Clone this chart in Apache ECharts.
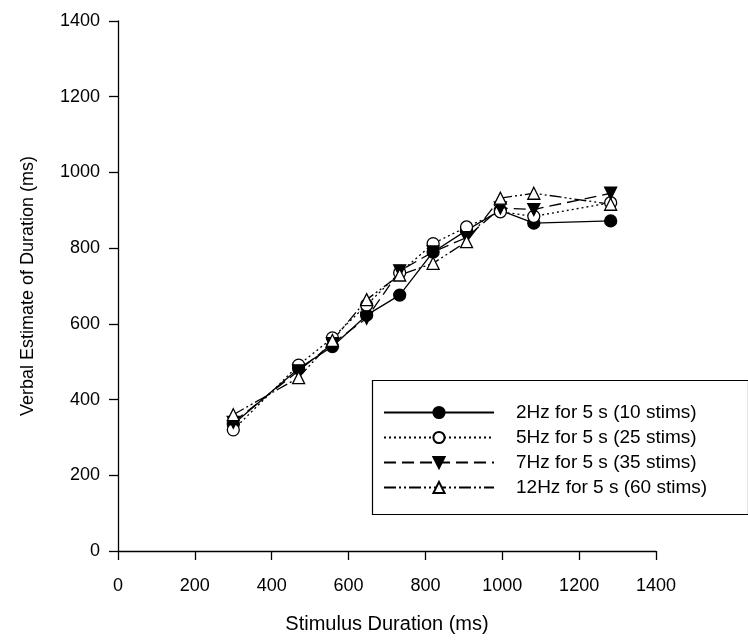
<!DOCTYPE html>
<html>
<head>
<meta charset="utf-8">
<script src="https://cdn.jsdelivr.net/npm/echarts@6/dist/echarts.min.js"></script>
<style>
  html, body { margin: 0; padding: 0; background: #fff; }
  #chart { width: 748px; height: 641px; }
</style>
</head>
<body>
<div id="chart"></div>
<script>
// stimulus durations (ms)
const durations = [300, 470, 558, 647, 733, 820, 907, 995, 1082, 1282];
// verbal estimates (ms) for each condition
const est2Hz  = [335, 482, 540, 623, 676, 790, 847, 900, 866, 872];
const est5Hz  = [320, 491, 563, 650, 735, 812, 856, 896, 884, 920];
const est7Hz  = [340, 476, 548, 615, 740, 790, 828, 906, 902, 945];
const est12Hz = [360, 458, 556, 664, 729, 760, 817, 932, 945, 916];
const seriesNames = ['2Hz for 5 s (10 stims)', '5Hz for 5 s (25 stims)', '7Hz for 5 s (35 stims)', '12Hz for 5 s (60 stims)'];

const pairs = arr => durations.map((d, i) => [d, arr[i]]);

const chart = echarts.init(document.getElementById('chart'));
const font = 'Liberation Sans, Arial, sans-serif';

const mk = (name, data, symbol, fill, lineType, rotate) => ({
  name: name,
  type: 'line',
  data: pairs(data),
  symbol: symbol,
  symbolSize: 12,
  symbolRotate: rotate || 0,
  showAllSymbol: true,
  lineStyle: { color: '#000', width: 1.3, type: lineType },
  itemStyle: { color: fill, borderColor: '#000', borderWidth: 1.3 },
  emphasis: { disabled: true },
  z: 3
});

const axisCommon = {
  type: 'value', min: 0, max: 1400, interval: 200,
  nameLocation: 'middle',
  axisLine: { show: true, onZero: false, lineStyle: { color: '#000', width: 1.3 } },
  axisTick: { show: true, inside: false, length: 9, lineStyle: { color: '#000', width: 1.3 } },
  splitLine: { show: false }
};

chart.setOption({
  animation: false,
  backgroundColor: '#fff',
  grid: { left: 118, top: 21, right: 92, bottom: 90 },
  xAxis: Object.assign({}, axisCommon, {
    name: 'Stimulus Duration (ms)', nameGap: 63,
    nameTextStyle: { fontFamily: font, fontSize: 20, color: '#000' },
    axisLabel: { fontFamily: font, fontSize: 18, color: '#000', margin: 26, formatter: v => String(v) }
  }),
  yAxis: Object.assign({}, axisCommon, {
    name: 'Verbal Estimate of Duration (ms)', nameGap: 81,
    nameTextStyle: { fontFamily: font, fontSize: 18, color: '#000' },
    axisLabel: { fontFamily: font, fontSize: 18, color: '#000', margin: 18, formatter: v => String(v) }
  }),
  legend: {
    left: 383, top: 403, orient: 'vertical', padding: 0,
    itemWidth: 110, itemHeight: 14, itemGap: 6,
    data: seriesNames,
    textStyle: { fontFamily: font, fontSize: 19, lineHeight: 19, color: '#000', padding: [0, 0, 0, 17] },
    selectedMode: false
  },
  graphic: [{
    type: 'rect', left: 370, top: 378,
    shape: { width: 376, height: 134 },
    style: { fill: 'none', stroke: '#000', lineWidth: 1.2 },
    z: 10
  }],
  series: [
    mk(seriesNames[0], est2Hz, 'circle', '#000', 'solid'),
    mk(seriesNames[1], est5Hz, 'circle', '#fff', [2, 3]),
    mk(seriesNames[2], est7Hz, 'triangle', '#000', [12, 6], 180),
    mk(seriesNames[3], est12Hz, 'triangle', '#fff', [12, 3, 2, 3, 2, 3])
  ]
});
</script>
</body>
</html>
